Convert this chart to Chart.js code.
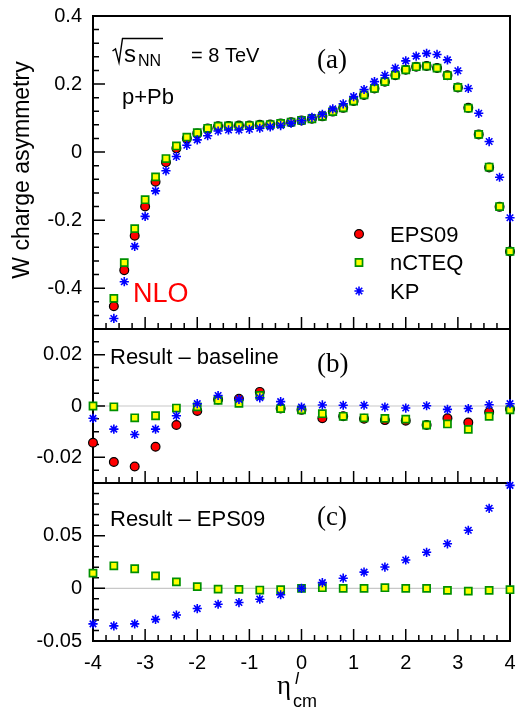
<!DOCTYPE html>
<html><head><meta charset="utf-8">
<script src="https://cdn.jsdelivr.net/npm/chart.js@4.4.1/dist/chart.umd.min.js"></script>
<style>
html,body{margin:0;padding:0;background:#fff;}
#wrap{position:relative;width:517px;height:713px;overflow:hidden;}
canvas{position:absolute;left:0;top:0;}
</style></head><body>
<div id="wrap">
<canvas id="ca" width="517" height="713"></canvas>
<canvas id="cb" width="517" height="713"></canvas>
<canvas id="cc" width="517" height="713"></canvas>
</div>
<script>
// ---------- data ----------
const etaFine = [-3.6,-3.4,-3.2,-3.0,-2.8,-2.6,-2.4,-2.2,-2.0,-1.8,-1.6,-1.4,-1.2,-1.0,-0.8,-0.6,-0.4,-0.2,0.0,0.2,0.4,0.6,0.8,1.0,1.2,1.4,1.6,1.8,2.0,2.2,2.4,2.6,2.8,3.0,3.2,3.4,3.6,3.8,4.0];
const epsA   = [-0.453,-0.347,-0.246,-0.160,-0.087,-0.030,0.011,0.040,0.055,0.069,0.076,0.077,0.078,0.078,0.080,0.081,0.084,0.088,0.093,0.098,0.105,0.119,0.130,0.150,0.168,0.187,0.207,0.226,0.242,0.251,0.253,0.247,0.226,0.190,0.130,0.052,-0.045,-0.161,-0.292];
const ncteqA = [-0.430,-0.325,-0.225,-0.140,-0.073,-0.019,0.018,0.044,0.057,0.070,0.076,0.077,0.077,0.078,0.080,0.081,0.084,0.088,0.093,0.098,0.105,0.119,0.130,0.150,0.168,0.187,0.207,0.226,0.242,0.251,0.253,0.247,0.225,0.190,0.129,0.052,-0.044,-0.160,-0.292];
const kpA    = [-0.489,-0.381,-0.277,-0.189,-0.114,-0.055,-0.013,0.020,0.036,0.048,0.062,0.065,0.065,0.067,0.070,0.074,0.078,0.085,0.092,0.102,0.111,0.127,0.142,0.163,0.184,0.207,0.226,0.247,0.268,0.282,0.290,0.287,0.271,0.239,0.187,0.114,0.031,-0.074,-0.193];

const etaCoarse = [-4.0,-3.6,-3.2,-2.8,-2.4,-2.0,-1.6,-1.2,-0.8,-0.4,0.0,0.4,0.8,1.2,1.6,2.0,2.4,2.8,3.2,3.6,4.0];
const epsB   = [-0.0143,-0.0218,-0.0236,-0.0159,-0.0074,-0.0019,0.0025,0.0028,0.0055,-0.0010,-0.0015,-0.0048,-0.0040,-0.0050,-0.0055,-0.0057,-0.0074,-0.0048,-0.0064,-0.0024,-0.0012];
const ncteqB = [0.0000,-0.0003,-0.0046,-0.0038,-0.0008,-0.0003,0.0022,0.0010,0.0041,-0.0010,-0.0015,-0.0030,-0.0040,-0.0046,-0.0048,-0.0051,-0.0074,-0.0070,-0.0091,-0.0040,-0.0015];
const kpB    = [-0.0048,-0.0090,-0.0111,-0.0090,-0.0038,0.0009,0.0041,0.0026,0.0032,0.0017,-0.0004,0.0004,0.0003,0.0003,-0.0004,-0.0008,0.0001,-0.0013,-0.0010,0.0005,0.0009];
const ncteqC = [0.0144,0.0214,0.0186,0.0118,0.0061,0.0016,-0.0007,-0.0010,-0.0016,-0.0013,0.0000,0.0006,0.0000,0.0000,0.0006,0.0000,0.0000,-0.0019,-0.0026,-0.0019,-0.0013];
const kpC    = [-0.0337,-0.0356,-0.0337,-0.0295,-0.0253,-0.0192,-0.0151,-0.0135,-0.0103,-0.0061,0.0000,0.0054,0.0096,0.0154,0.0202,0.0269,0.0342,0.0423,0.0551,0.0760,0.0977];

const seriesNames = ['EPS09','nCTEQ','KP'];
const xTicks = [-4,-3,-2,-1,0,1,2,3,4];
const xTickLabels = ['-4','-3','-2','-1','0','1','2','3','4'];
const yTicksA = [0.4,0.2,0,-0.2,-0.4];
const yLabelsA = ['0.4','0.2','0','-0.2','-0.4'];
const yTicksB = [0.02,0,-0.02];
const yLabelsB = ['0.02','0','-0.02'];
const yTicksC = [0.05,0,-0.05];
const yLabelsC = ['0.05','0','-0.05'];

// ---------- styles ----------
const SANS = '"Liberation Sans", Arial, Helvetica, sans-serif';
const SERIF = '"Liberation Serif", "Times New Roman", serif';
const STY = {
  EPS09: {pointStyle:'circle', pointRadius:4.4, pointBackgroundColor:'#ff0000', pointBorderColor:'#000000', pointBorderWidth:1.2, order:3},
  nCTEQ: {pointStyle:'rect', pointRadius:5, pointBackgroundColor:'#ffff00', pointBorderColor:'#009000', pointBorderWidth:1.7, order:2},
  KP:    {pointStyle:'star', pointRadius:4.6, pointBackgroundColor:'#0000ff', pointBorderColor:'#0000ff', pointBorderWidth:1.6, order:1}
};

function ds(name, xs, ys){
  return Object.assign({label:name, data: xs.map((x,i)=>({x:x, y:ys[i]})), showLine:false, clip:false, pointHoverRadius:0}, STY[name]);
}

function stepsIn(min, max, step){
  const out = [];
  const k0 = Math.ceil(min/step - 1e-9), k1 = Math.floor(max/step + 1e-9);
  for (let k=k0;k<=k1;k++) out.push(+(k*step).toFixed(6));
  return out;
}

function decor(cfg){
  return {
    id:'decor',
    beforeDatasetsDraw(chart){
      const ctx = chart.ctx, a = chart.chartArea;
      const ys = chart.scales.y, xs = chart.scales.x;
      ctx.save();
      if (cfg.zero){
        const y0 = ys.getPixelForValue(0);
        ctx.strokeStyle = '#c8c8c8'; ctx.lineWidth = 1.2;
        ctx.beginPath(); ctx.moveTo(a.left, y0); ctx.lineTo(a.right, y0); ctx.stroke();
      }
      ctx.strokeStyle = '#000'; ctx.lineWidth = 1.5;
      ctx.beginPath();
      stepsIn(ys.min, ys.max, cfg.yMinor).forEach(v=>{
        const p = ys.getPixelForValue(v); ctx.moveTo(a.left, p); ctx.lineTo(a.left+6, p);
      });
      stepsIn(ys.min, ys.max, cfg.yMajor).forEach(v=>{
        const p = ys.getPixelForValue(v); ctx.moveTo(a.left, p); ctx.lineTo(a.left+12, p);
      });
      stepsIn(xs.min, xs.max, 0.25).forEach(v=>{
        const p = xs.getPixelForValue(v); ctx.moveTo(p, a.bottom); ctx.lineTo(p, a.bottom-6);
      });
      stepsIn(xs.min, xs.max, 1).forEach(v=>{
        const p = xs.getPixelForValue(v); ctx.moveTo(p, a.bottom); ctx.lineTo(p, a.bottom-12);
      });
      ctx.stroke();
      ctx.lineWidth = 2;
      ctx.strokeRect(a.left, a.top, a.right-a.left, a.bottom-a.top);
      ctx.restore();
    },
    afterDraw(chart){
      if (cfg.texts){ chart.ctx.save(); cfg.texts(chart.ctx, chart); chart.ctx.restore(); }
    }
  };
}

function makeChart(id, datasets, yMin, yMax, yT, yL, padTop, padBottom, showX, cfg){
  const xScale = showX ? {
      type:'linear', min:-4, max:4, position:'bottom',
      afterFit: s => { s.height = 72; s.paddingLeft = 0; s.paddingRight = 0; },
      afterBuildTicks: s => { s.ticks = xTicks.map(v=>({value:v})); },
      ticks:{ autoSkip:false, maxRotation:0, padding:10, color:'#000', font:{family:SANS, size:20},
              callback:(v,i)=>xTickLabels[i] },
      grid:{display:false, drawTicks:false}, border:{display:false}
    } : { type:'linear', min:-4, max:4, display:false };
  return new Chart(document.getElementById(id), {
    type:'scatter',
    data:{datasets},
    options:{
      responsive:false, animation:false, devicePixelRatio:1,
      layout:{padding:{left:0, right:7, top:padTop, bottom:padBottom}},
      plugins:{legend:{display:false}, tooltip:{enabled:false}},
      scales:{
        x: xScale,
        y:{ type:'linear', min:yMin, max:yMax, position:'left',
            afterFit: s => { s.width = 93; s.paddingTop = 0; s.paddingBottom = 0; },
            afterBuildTicks: s => { s.ticks = yT.map(v=>({value:v})); },
            ticks:{ autoSkip:false, padding:11, color:'#000', font:{family:SANS, size:20},
                    callback:(v,i)=>yL[i] },
            grid:{display:false, drawTicks:false}, border:{display:false} }
      }
    },
    plugins:[decor(cfg)]
  });
}

// ---------- panel (a) ----------
makeChart('ca', [ds('EPS09', etaFine, epsA), ds('nCTEQ', etaFine, ncteqA), ds('KP', etaFine, kpA)],
  -0.52, 0.4, yTicksA, yLabelsA, 16, 384, false,
  {yMajor:0.2, yMinor:0.04, zero:false, texts:(ctx, chart)=>{
    ctx.fillStyle = '#000'; ctx.strokeStyle = '#000';
    // sqrt(s_NN) = 8 TeV
    ctx.lineWidth = 1.4; ctx.beginPath();
    ctx.moveTo(112.5, 51); ctx.lineTo(115.5, 49); ctx.lineTo(119, 62.5); ctx.lineTo(122.5, 38.5); ctx.lineTo(163, 38.5);
    ctx.stroke();
    ctx.textBaseline = 'alphabetic'; ctx.textAlign = 'left';
    ctx.font = '24px ' + SANS; ctx.fillText('s', 124, 62);
    ctx.font = '16px ' + SANS; ctx.fillText('NN', 138, 66);
    ctx.font = '20px ' + SANS; ctx.fillText('= 8 TeV', 191, 62);
    ctx.font = '22px ' + SANS; ctx.fillText('p+Pb', 122, 104);
    ctx.font = '27px ' + SERIF; ctx.fillText('(a)', 317, 68);
    ctx.fillStyle = '#ff0000'; ctx.font = '27px ' + SANS; ctx.fillText('NLO', 133, 302);
    // legend
    const ly = [234, 262.5, 291];
    const lb = [241.5, 270, 298.5];
    seriesNames.forEach((n,i)=>{
      const s = STY[n];
      ctx.fillStyle = s.pointBackgroundColor; ctx.strokeStyle = s.pointBorderColor; ctx.lineWidth = s.pointBorderWidth;
      Chart.helpers.drawPoint(ctx, {pointStyle:s.pointStyle, radius:s.pointRadius, borderWidth:s.pointBorderWidth, rotation:0}, 359, ly[i]);
      ctx.fillStyle = '#000'; ctx.font = '22px ' + SANS; ctx.fillText(n, 390, lb[i]);
    });
    // y title
    ctx.save(); ctx.translate(29, 170); ctx.rotate(-Math.PI/2);
    ctx.textAlign = 'center'; ctx.fillStyle = '#000'; ctx.font = '23px ' + SANS;
    ctx.fillText('W charge asymmetry', 0, 0); ctx.restore();
  }});

// ---------- panel (b) ----------
makeChart('cb', [ds('EPS09', etaCoarse, epsB), ds('nCTEQ', etaCoarse, ncteqB), ds('KP', etaCoarse, kpB)],
  -0.03, 0.03, yTicksB, yLabelsB, 329, 230, false,
  {yMajor:0.02, yMinor:0.005, zero:true, texts:(ctx)=>{
    ctx.fillStyle = '#000'; ctx.textBaseline = 'alphabetic'; ctx.textAlign = 'left';
    ctx.font = '22px ' + SANS; ctx.fillText('Result \u2013 baseline', 110, 364);
    ctx.font = '27px ' + SERIF; ctx.fillText('(b)', 317, 372);
  }});

// ---------- panel (c) ----------
makeChart('cc', [ds('nCTEQ', etaCoarse, ncteqC), ds('KP', etaCoarse, kpC)],
  -0.05, 0.1, yTicksC, yLabelsC, 483, 0, true,
  {yMajor:0.05, yMinor:0.01, zero:true, texts:(ctx)=>{
    ctx.fillStyle = '#000'; ctx.textBaseline = 'alphabetic'; ctx.textAlign = 'left';
    ctx.font = '22px ' + SANS; ctx.fillText('Result \u2013 EPS09', 110, 526);
    ctx.font = '27px ' + SERIF; ctx.fillText('(c)', 317, 525);
    // x title: eta^l_cm
    ctx.font = '27px ' + SERIF; ctx.fillText('\u03b7', 277, 694);
    ctx.font = 'italic 17px ' + SANS; ctx.fillText('l', 295, 684);
    ctx.font = '18px ' + SANS; ctx.fillText('cm', 293, 707);
  }});
</script>
</body></html>
